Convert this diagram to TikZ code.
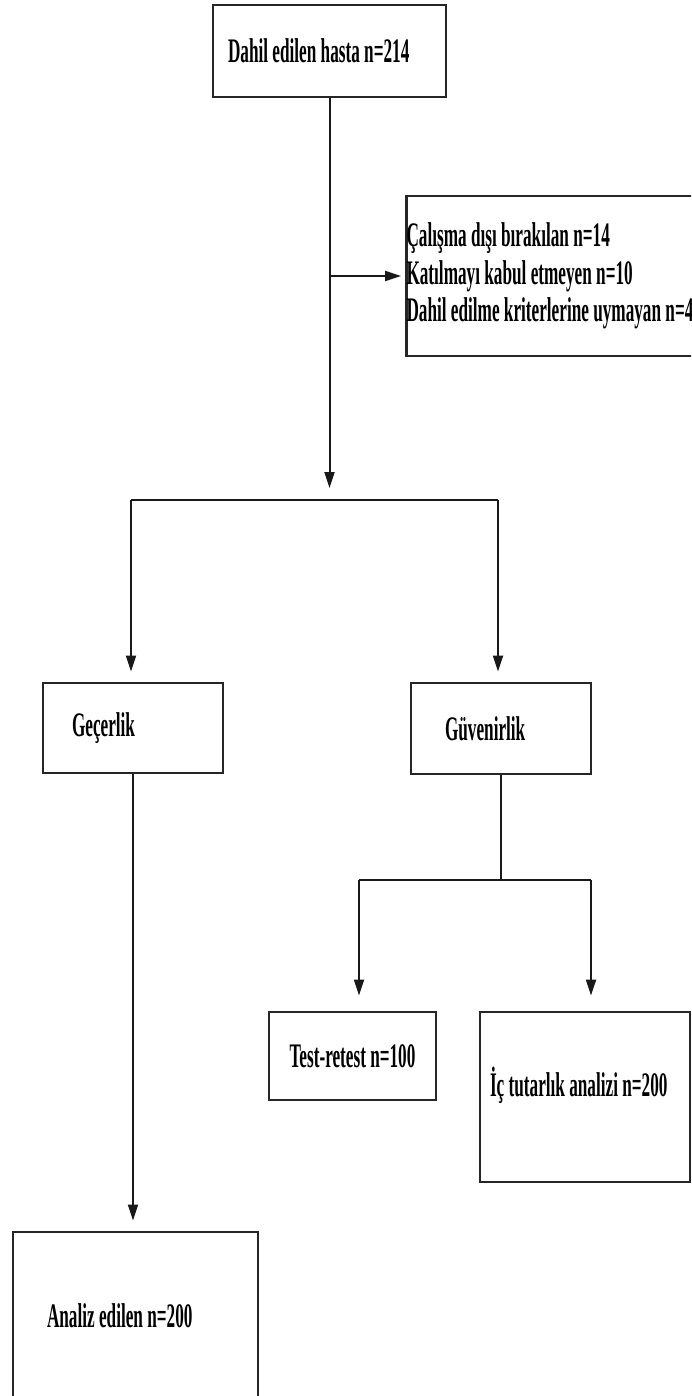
\documentclass[tikz,border=0pt]{standalone}
\usepackage{fontspec}
\setmainfont{Liberation Serif}[FakeStretch=0.5]
\usetikzlibrary{arrows.meta}
\newcommand{\satir}[1]{\mbox{\spaceskip=0pt\xspaceskip=0pt #1}}
\begin{document}
\begin{tikzpicture}[x=0.5pt, y=-0.5pt, >={Triangle[length=8pt,width=5pt]},
		box/.style={draw=black!85, line width=1.4pt, align=left, inner ysep=0pt, font=\bfseries\fontsize{17.2}{18.75}\selectfont},
		conn/.style={line width=1pt, black!90}]
	\useasboundingbox (0,0) rectangle (691,1396);
	\clip (0,0) rectangle (691,1396);
	% kutular
	\node[box, minimum height=46pt, text width=101.5pt, inner xsep=7.5pt] (hasta) at (329.5,51) {\satir{Dahil edilen hasta n=214}};
	\node[box, minimum height=80pt, text width=156.5pt, inner xsep=0pt] (disi) at (563,276) {\satir{Çalışma dışı bırakılan n=14}\\\satir{Katılmayı kabul etmeyen n=10}\\\satir{Dahil edilme kriterlerine uymayan n=4}};
	\node[box, minimum height=45pt, text width=61pt, inner xsep=14.5pt] (gecer) at (133,728) {Geçerlik};
	\node[box, minimum height=45.5pt, text width=56pt, inner xsep=17pt] (guven) at (501,728.5) {Güvenirlik};
	\node[box, align=center, minimum width=83.5pt, minimum height=44pt] (test) at (352.5,1056) {\satir{Test-retest n=100}};
	\node[box, minimum height=85pt, text width=95pt, inner xsep=5pt, text depth=15pt] (ic) at (585,1097) {\satir{İç tutarlık analizi n=200}};
	\node[box, minimum height=84pt, text width=88.5pt, inner xsep=17pt] (analiz) at (135.5,1316) {\satir{Analiz edilen n=200}};
	% baglantilar
	\coordinate (b1l) at (131,500);
	\coordinate (b1r) at (498,500);
	\coordinate (b2l) at (359,880);
	\coordinate (b2r) at (591,880);
	\draw[conn, ->] (hasta.south) -- ([yshift=6pt]hasta.south |- b1l);
	\draw[conn, ->, shorten >=2pt] (hasta.south |- disi.west) -- (disi.west);
	\draw[conn, line width=1.4pt] (b1l) -- (b1r);
	\draw[conn, ->, shorten >=5pt] (b1l) -- (b1l |- gecer.north);
	\draw[conn, ->, shorten >=5pt] (b1r) -- (b1r |- guven.north);
	\draw[conn, ->, shorten >=5pt] (gecer.south) -- (gecer.south |- analiz.north);
	\draw[conn] (guven.south) -- (guven.south |- b2l);
	\draw[conn, line width=1.4pt] (b2l) -- (b2r);
	\draw[conn, ->, shorten >=7.5pt] (b2l) -- (b2l |- test.north);
	\draw[conn, ->, shorten >=7.5pt] (b2r) -- (b2r |- ic.north);
\end{tikzpicture}
\end{document}
